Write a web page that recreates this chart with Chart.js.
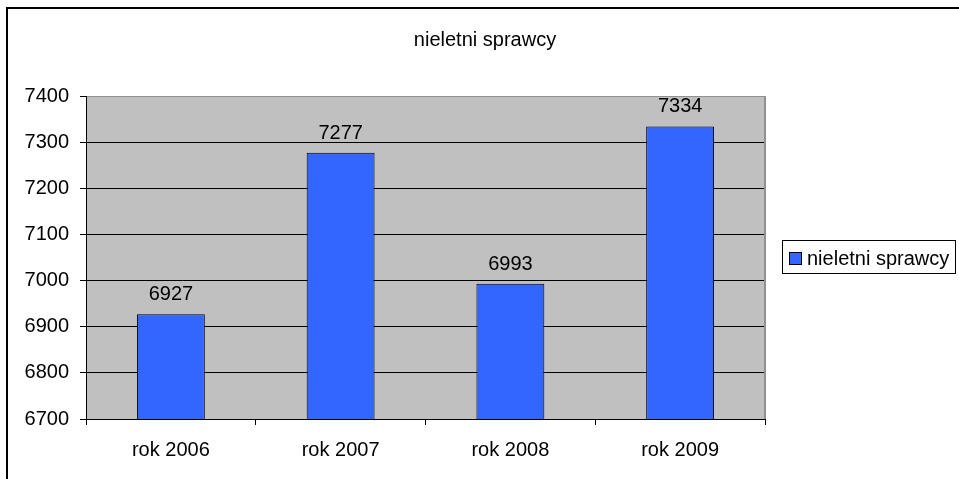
<!DOCTYPE html>
<html>
<head>
<meta charset="utf-8">
<script src="https://cdn.jsdelivr.net/npm/chart.js@4.4.1/dist/chart.umd.min.js"></script>
<style>
  body { margin: 0; background: #fff; }
  canvas { display: block; }
</style>
</head>
<body>
<canvas id="chart" width="959" height="479"></canvas>
<script>
const categories = ['rok 2006', 'rok 2007', 'rok 2008', 'rok 2009'];
const values = [6927, 7277, 6993, 7334];
const seriesName = 'nieletni sprawcy';
const chartTitle = 'nieletni sprawcy';
const yMin = 6700;
const yMax = 7400;
const yStep = 100;

const FONT = '"Liberation Sans", Arial, sans-serif';

// background, frame, title, legend and value labels
const excelLook = {
  id: 'excelLook',
  beforeDraw(chart) {
    const { ctx, chartArea: a } = chart;
    ctx.save();
    ctx.fillStyle = '#C0C0C0';
    ctx.fillRect(a.left, a.top, a.right - a.left, a.bottom - a.top);
    ctx.restore();
  },
  afterDraw(chart) {
    const { ctx, chartArea: a } = chart;
    ctx.save();
    // plot area right edge
    ctx.fillStyle = '#909090';
    ctx.fillRect(a.right - 1, a.top, 2, a.bottom - a.top);

    // outer chart frame (only left/top are visible)
    ctx.fillStyle = '#000';
    ctx.fillRect(6, 7, 2, chart.height - 7);
    ctx.fillRect(6, 7, chart.width - 6, 2);

    // title
    ctx.font = '20px ' + FONT;
    ctx.fillStyle = '#000';
    ctx.textAlign = 'center';
    ctx.textBaseline = 'alphabetic';
    ctx.fillText(chartTitle, 485, 46);

    // value labels
    const meta = chart.getDatasetMeta(0);
    meta.data.forEach((bar, i) => {
      ctx.fillText(String(values[i]), bar.x, bar.y - 14);
    });

    // legend
    ctx.fillStyle = '#fff';
    ctx.fillRect(782, 240, 173, 33);
    ctx.strokeStyle = '#000';
    ctx.lineWidth = 1;
    ctx.strokeRect(782.5, 240.5, 173, 33);
    ctx.fillStyle = '#3366FF';
    ctx.fillRect(789.5, 252.5, 12, 12);
    ctx.strokeRect(789.5, 252.5, 12, 12);
    ctx.fillStyle = '#000';
    ctx.textAlign = 'left';
    ctx.fillText(chart.data.datasets[0].label, 807, 265);
    ctx.restore();
  }
};

new Chart(document.getElementById('chart'), {
  type: 'bar',
  data: {
    labels: categories,
    datasets: [{
      label: seriesName,
      data: values,
      backgroundColor: '#3366FF',
      borderColor: '#000',
      borderWidth: 1,
      borderSkipped: false,
      barPercentage: 0.4,
      categoryPercentage: 1
    }]
  },
  options: {
    responsive: false,
    animation: false,
    layout: { padding: { left: 0, top: 96, right: 194, bottom: 0 } },
    plugins: {
      legend: { display: false },
      title: { display: false },
      tooltip: { enabled: false }
    },
    scales: {
      x: {
        offset: true,
        grid: {
          offset: true,
          drawOnChartArea: false,
          tickLength: 6,
          tickColor: '#000',
          lineWidth: 1
        },
        border: { color: '#000', width: 1 },
        ticks: {
          color: '#000',
          padding: 13,
          font: { family: FONT, size: 20 }
        },
        afterFit(scale) { scale.height = 60; }
      },
      y: {
        min: yMin,
        max: yMax,
        grid: {
          color: ctx => (ctx.tick && ctx.tick.value === yMax) ? '#909090' : '#000',
          tickColor: '#000',
          tickLength: 6,
          lineWidth: 1
        },
        border: { color: '#000', width: 1 },
        ticks: {
          stepSize: yStep,
          color: '#000',
          padding: 11,
          font: { family: FONT, size: 20 },
          callback: v => String(v)
        },
        afterFit(scale) { scale.width = 86; }
      }
    }
  },
  plugins: [excelLook]
});
</script>
</body>
</html>
